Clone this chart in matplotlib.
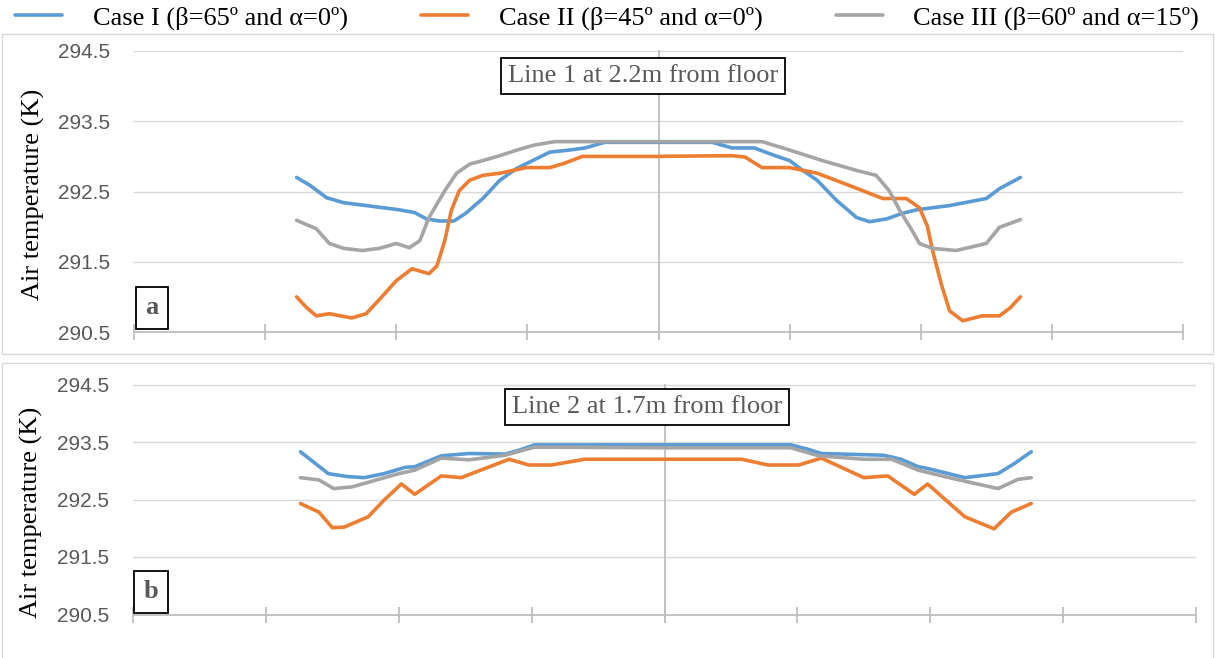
import matplotlib
matplotlib.use('Agg')
import matplotlib.pyplot as plt
from matplotlib.patches import Rectangle

# Line 1 at 2.2 m from floor: position along the line (m) and air temperature (K)
x1_case1 = [-2.76, -2.66, -2.53, -2.40, -2.23, -1.98, -1.86, -1.77, -1.67, -1.56, -1.47, -1.34,
            -1.21, -1.08, -0.96, -0.83, -0.68, -0.56, -0.41, 0.0, 0.41, 0.56, 0.73, 0.89,
            1.00, 1.10, 1.21, 1.36, 1.51, 1.61, 1.74, 1.86, 1.97, 2.22, 2.50, 2.60, 2.76]
t1_case1 = [292.70, 292.59, 292.41, 292.34, 292.30, 292.24, 292.20, 292.11, 292.08, 292.08, 292.19, 292.40,
            292.66, 292.83, 292.94, 293.06, 293.09, 293.12, 293.20, 293.20, 293.20, 293.12, 293.12, 293.01,
            292.94, 292.80, 292.66, 292.37, 292.13, 292.07, 292.11, 292.19, 292.24, 292.30, 292.40, 292.54, 292.70]

x1_case2 = [-2.76, -2.68, -2.61, -2.51, -2.34, -2.23, -2.11, -2.00, -1.88, -1.75, -1.69, -1.63,
            -1.58, -1.52, -1.44, -1.34, -1.21, -1.01, -0.83, -0.72, -0.58, 0.0, 0.56, 0.66,
            0.79, 1.00, 1.21, 1.38, 1.56, 1.71, 1.89, 1.99, 2.05, 2.09, 2.16, 2.22, 2.32,
            2.47, 2.60, 2.68, 2.76]
t1_case2 = [291.00, 290.84, 290.73, 290.76, 290.70, 290.76, 291.00, 291.23, 291.40, 291.33, 291.44, 291.80,
            292.23, 292.51, 292.66, 292.73, 292.76, 292.84, 292.84, 292.90, 293.00, 293.00, 293.01, 292.99,
            292.84, 292.84, 292.76, 292.64, 292.51, 292.40, 292.40, 292.27, 292.01, 291.66, 291.16, 290.80, 290.66,
            290.73, 290.73, 290.84, 291.00]

x1_case3 = [-2.76, -2.61, -2.51, -2.40, -2.26, -2.13, -2.00, -1.90, -1.82, -1.75, -1.63, -1.54,
            -1.44, -1.34, -1.21, -1.08, -0.95, -0.79, 0.0, 0.79, 1.00, 1.25, 1.51, 1.66,
            1.76, 1.84, 1.92, 1.99, 2.09, 2.27, 2.50, 2.60, 2.76]
t1_case3 = [292.09, 291.97, 291.76, 291.69, 291.66, 291.69, 291.76, 291.70, 291.80, 292.13, 292.51, 292.76,
            292.89, 292.94, 293.01, 293.09, 293.16, 293.21, 293.21, 293.21, 293.09, 292.94, 292.80, 292.73,
            292.51, 292.23, 291.99, 291.76, 291.69, 291.66, 291.76, 291.99, 292.10]

# Line 2 at 1.7 m from floor
x2_case1 = [-2.74, -2.53, -2.39, -2.26, -2.11, -1.95, -1.88, -1.68, -1.47, -1.20, -1.09, -0.98,
            0.0, 0.95, 1.07, 1.18, 1.65, 1.78, 1.91, 1.98, 2.26, 2.51, 2.63, 2.76]
t2_case1 = [293.33, 292.95, 292.90, 292.88, 292.95, 293.06, 293.07, 293.26, 293.30, 293.29, 293.36, 293.45,
            293.45, 293.45, 293.38, 293.30, 293.27, 293.20, 293.07, 293.04, 292.88, 292.95, 293.12, 293.33]

x2_case2 = [-2.74, -2.60, -2.50, -2.41, -2.23, -2.11, -1.98, -1.88, -1.68, -1.53, -1.35, -1.17,
            -1.02, -0.85, -0.60, 0.0, 0.58, 0.78, 1.01, 1.18, 1.50, 1.68, 1.88, 1.98,
            2.26, 2.48, 2.61, 2.76]
t2_case2 = [292.43, 292.28, 292.01, 292.02, 292.20, 292.49, 292.77, 292.59, 292.91, 292.88, 293.04, 293.20,
            293.10, 293.10, 293.20, 293.20, 293.20, 293.10, 293.10, 293.22, 292.88, 292.91, 292.59, 292.77,
            292.20, 291.99, 292.28, 292.43]

x2_case3 = [-2.74, -2.60, -2.49, -2.35, -2.00, -1.88, -1.68, -1.47, -1.20, -0.98, 0.0, 0.95,
            1.16, 1.50, 1.71, 1.91, 2.16, 2.51, 2.66, 2.76]
t2_case3 = [292.88, 292.84, 292.69, 292.72, 292.95, 293.01, 293.22, 293.19, 293.27, 293.41, 293.40, 293.40,
            293.26, 293.20, 293.20, 293.01, 292.87, 292.69, 292.85, 292.88]

case_labels = ['Case I (β=65º and α=0º)', 'Case II (β=45º and α=0º)', 'Case III (β=60º and α=15º)']
colors = ['#5B9BD5', '#ED7D31', '#A5A5A5']
y_ticks = [290.5, 291.5, 292.5, 293.5, 294.5]
x_ticks = [-4, -3, -2, -1, 0, 1, 2, 3, 4]

W, H = 1215, 658
serif = 'Liberation Serif'
sans = 'Liberation Sans'

fig = plt.figure(figsize=(W / 100, H / 100), dpi=100)

# panel frames
fig.add_artist(Rectangle((2 / W, 1 - 354 / H), 1211 / W, 320 / H, transform=fig.transFigure,
                         facecolor='none', edgecolor='#d9d9d9', lw=1))
fig.add_artist(Rectangle((2 / W, -0.05), 1211 / W, 1 - 363 / H + 0.05, transform=fig.transFigure,
                         facecolor='none', edgecolor='#d9d9d9', lw=1))

ax1 = fig.add_axes([134 / W, 1 - 332 / H, (1183 - 134) / W, (332 - 51) / H])
ax2 = fig.add_axes([133 / W, 1 - 614.5 / H, (1196 - 133) / W, (614.5 - 384.5) / H])

panels = [
    (ax1, [(x1_case1, t1_case1), (x1_case2, t1_case2), (x1_case3, t1_case3)],
     'Line 1 at 2.2m from floor', (643, 76), 'a', (152, 308), 0.49, 339),
    (ax2, [(x2_case1, t2_case1), (x2_case2, t2_case2), (x2_case3, t2_case3)],
     'Line 2 at 1.7m from floor', (647, 407), 'b', (151, 592), 0.446, 622),
]

for ax, series, title, title_pos, letter, letter_pos, label_y, vline_end in panels:
    for (x, t), c, lab in zip(series, colors, case_labels):
        ax.plot(x, t, color=c, lw=2.6, label=lab, solid_capstyle='round',
                solid_joinstyle='round', zorder=3)

    ax.set_xlim(-4, 4)
    ax.set_ylim(290.5, 294.5)
    ax.set_yticks(y_ticks)
    ax.set_xticks(x_ticks)
    ax.set_xticklabels([])
    ax.grid(axis='y', color='#d9d9d9', lw=1.0)
    ax.set_axisbelow(True)
    for s in ['top', 'right', 'left']:
        ax.spines[s].set_visible(False)
    ax.spines['bottom'].set_color('#bfbfbf')
    ax.spines['bottom'].set_linewidth(1.3)
    ax.tick_params(axis='x', direction='inout', length=11.5, width=1.3, color='#bfbfbf')
    ax.tick_params(axis='y', length=0, pad=17, labelsize=15, labelcolor='#595959')
    for lbl in ax.get_yticklabels():
        lbl.set_fontfamily(sans)

    # vertical axis line at x = 0, running a little below the x axis
    bb = ax.get_position()
    ymin = ((1 - vline_end / H) - bb.y0) / bb.height
    ax.axvline(0, ymin=ymin, ymax=1, color='#bfbfbf', lw=1.3, clip_on=False, zorder=2)

    ax.set_ylabel('Air temperature (K)', fontfamily=serif, fontsize=19, color='black')
    ax.yaxis.set_label_coords(-0.085, label_y)

    fig.text(title_pos[0] / W, 1 - title_pos[1] / H, title, fontfamily=serif, fontsize=19,
             color='#595959', ha='center', va='center',
             bbox=dict(boxstyle='square,pad=0.27', facecolor='white', edgecolor='black', lw=1.3))
    fig.text(letter_pos[0] / W, 1 - letter_pos[1] / H, letter, fontfamily=serif, fontsize=19,
             fontweight='bold', color='#595959', ha='center', va='center',
             bbox=dict(boxstyle='square,pad=0.35', facecolor='white', edgecolor='black', lw=1.3))

# legend across the top
handles, labels = ax1.get_legend_handles_labels()
fig.legend(handles, labels, loc='center left', bbox_to_anchor=(15 / W, 1 - 18 / H), ncol=3,
           frameon=False, borderpad=0, borderaxespad=0, handlelength=1.78, handletextpad=1.17,
           columnspacing=2.77, prop={'family': serif, 'size': 19})

fig.savefig('out.png', dpi=100)
